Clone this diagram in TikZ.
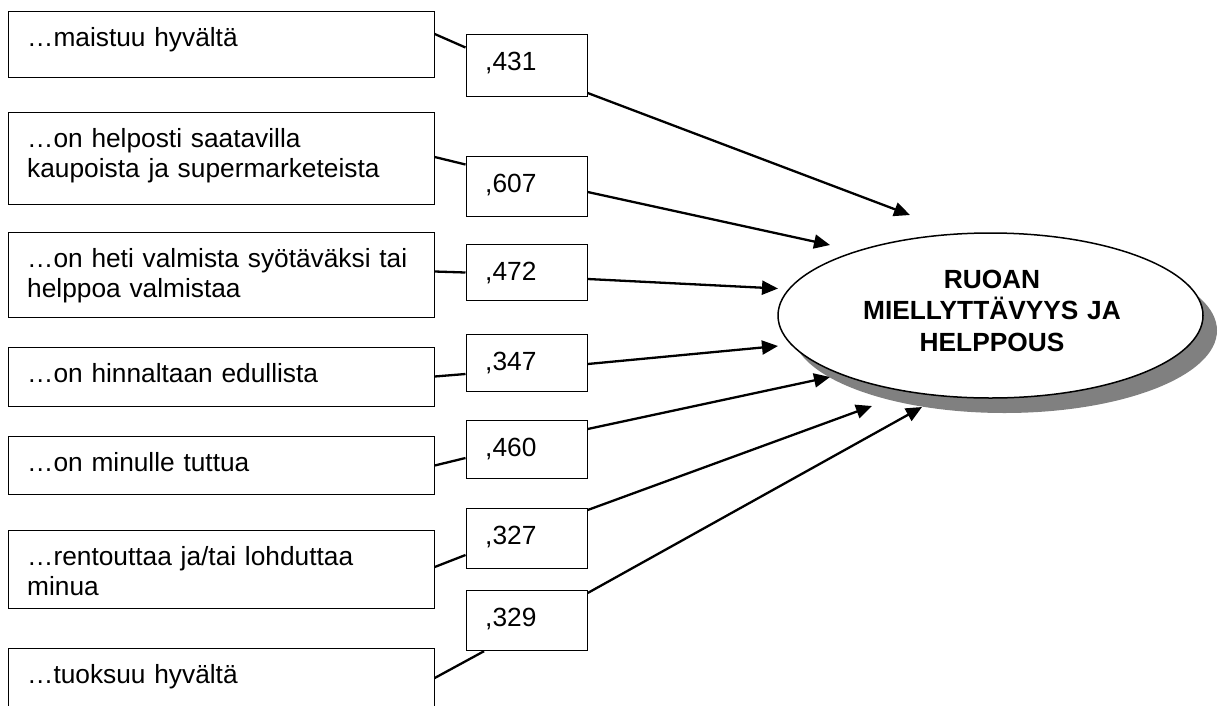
\documentclass[tikz,border=0pt]{standalone}
\usepackage{fontspec}
\setmainfont{Liberation Sans}
\usetikzlibrary{arrows.meta,shapes.geometric,shadows,calc}

\begin{document}
\begin{tikzpicture}[x=1pt,y=-1pt,
  item/.style={draw=black, line width=1.2pt, rectangle, inner sep=0pt,
               minimum width=426pt, anchor=north west},
  coef/.style={draw=black, line width=1.2pt, rectangle, inner sep=0pt,
               minimum width=121pt, anchor=north west},
  itemtxt/.style={anchor=base west, inner sep=0pt, text width=405pt, align=left,
                  font=\fontsize{26.3}{30}\selectfont},
  link/.style={line width=2.3pt},
  effect/.style={line width=2.3pt, -{Triangle[length=16pt,width=14pt]}},
]
\useasboundingbox (0,0) rectangle (1218,705);

% indicator boxes
\node[item, minimum height=66pt] (s1) at (7.5,10.5) {};
\node[item, minimum height=92pt] (s2) at (7.5,112) {};
\node[item, minimum height=85pt] (s3) at (7.5,232) {};
\node[item, minimum height=59pt] (s4) at (7.5,346.5) {};
\node[item, minimum height=58pt] (s5) at (7.5,436) {};
\node[item, minimum height=78pt] (s6) at (7.5,530) {};
\node[item, minimum height=80pt] (s7) at (7.5,648) {};

\node[itemtxt] (s1t) at ($(s1.north west)+(19.5,35.5)$) {…maistuu hyvältä};
\node[itemtxt] (s2t) at ($(s2.north west)+(19.5,35.5)$) {…on helposti saatavilla\\kaupoista ja supermarketeista};
\node[itemtxt] (s3t) at ($(s3.north west)+(19.5,35.5)$) {…on heti valmista syötäväksi tai\\helppoa valmistaa};
\node[itemtxt] (s4t) at ($(s4.north west)+(19.5,35.5)$) {…on hinnaltaan edullista};
\node[itemtxt] (s5t) at ($(s5.north west)+(19.5,35.5)$) {…on minulle tuttua};
\node[itemtxt] (s6t) at ($(s6.north west)+(19.5,35.5)$) {…rentouttaa ja/tai lohduttaa\\minua};
\node[itemtxt] (s7t) at ($(s7.north west)+(19.5,35.5)$) {…tuoksuu hyvältä};

% loading boxes
\node[coef, minimum height=62pt] (c1) at (465.5,34) {};
\node[coef, minimum height=60pt] (c2) at (465.5,156) {};
\node[coef, minimum height=56pt] (c3) at (465.5,244) {};
\node[coef, minimum height=57pt] (c4) at (465.5,334) {};
\node[coef, minimum height=58pt] (c5) at (465.5,420) {};
\node[coef, minimum height=60pt] (c6) at (465.5,508) {};
\node[coef, minimum height=60pt] (c7) at (465.5,590) {};

\node[itemtxt] (c1t) at ($(c1.north west)+(19.5,36.5)$) {,431};
\node[itemtxt] (c2t) at ($(c2.north west)+(19.5,36.5)$) {,607};
\node[itemtxt] (c3t) at ($(c3.north west)+(19.5,36.5)$) {,472};
\node[itemtxt] (c4t) at ($(c4.north west)+(19.5,36.5)$) {,347};
\node[itemtxt] (c5t) at ($(c5.north west)+(19.5,36.5)$) {,460};
\node[itemtxt] (c6t) at ($(c6.north west)+(19.5,36.5)$) {,327};
\node[itemtxt] (c7t) at ($(c7.north west)+(19.5,36.5)$) {,329};

% latent factor
\node[ellipse, draw=black, line width=1.5pt, fill=white, inner sep=0pt,
      minimum width=425pt, minimum height=165pt,
      drop shadow={shadow xshift=14pt, shadow yshift=-15pt, fill=black!50, opacity=1}]
      (lat) at (990.5,315.5) {};
\node[anchor=base, inner sep=0pt, text width=340pt, align=center,
      font=\bfseries\fontsize{26.3}{31.7}\selectfont]
      (latt) at (992,288) {RUOAN\\MIELLYTTÄVYYS JA\\HELPPOUS};

% arrow tips around the factor
\coordinate (t1) at (910,215);
\coordinate (t2) at (830,245);
\coordinate (t3) at (778,288.5);
\coordinate (t4) at (778,346);
\coordinate (t5) at (830,377);
\coordinate (t6) at (872,406);
\coordinate (t7) at (922,407);

% indicator to loading
\draw[link] (s1.east |- 0,34)  -- (c1.west |- 0,47.5);
\draw[link] (s2.east |- 0,157) -- (c2.west |- 0,164.5);
\draw[link] (s3.east |- 0,271.5) -- (c3.west |- 0,272.5);
\draw[link] (s4.east |- 0,376.5) -- (c4.west |- 0,374);
\draw[link] (s5.east |- 0,465.5) -- (c5.west |- 0,458);
\draw[link] (s6.east |- 0,567) -- (c6.west |- 0,555);
\draw[link] (s7.east |- 0,678) -- (484,0 |- c7.south);

% loading to factor
\draw[effect] (c1.east |- 0,93)  -- (t1);
\draw[effect] (c2.east |- 0,192) -- (t2);
\draw[effect] (c3.east |- 0,279) -- (t3);
\draw[effect] (c4.east |- 0,364) -- (t4);
\draw[effect] (c5.east |- 0,429) -- (t5);
\draw[effect] (c6.east |- 0,510) -- (t6);
\draw[effect] (c7.east |- 0,593) -- (t7);
\end{tikzpicture}
\end{document}
